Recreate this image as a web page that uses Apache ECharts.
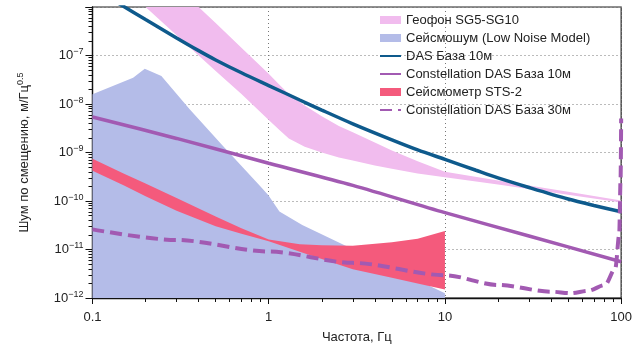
<!DOCTYPE html>
<html><head><meta charset="utf-8">
<script src="https://cdn.jsdelivr.net/npm/echarts@6/dist/echarts.min.js"></script>
<style>html,body{margin:0;padding:0;background:#fff}#c{width:635px;height:349px}</style>
</head><body><div id="c"></div>
<script>
const FONT = '"Liberation Sans", Arial, sans-serif';

// Геофон SG5-SG10 (band)
const geoFreq  = [0.15, 0.2, 0.3, 0.4, 0.5, 0.7, 1, 1.15, 1.3, 1.6, 2, 2.5, 3, 4, 5, 7, 10, 20, 50, 100];
const geoUpper = [3e-5, 1.1e-5, 2.75e-6, 1.0e-6, 4.7e-7, 1.45e-7, 4.2e-8, 2.5e-8, 1.6e-8, 9.3e-9, 5.6e-9, 3.5e-9, 2.6e-9, 1.6e-9, 1.1e-9, 6.6e-10, 4.0e-10, 2.66e-10, 1.55e-10, 1.02e-10];
const geoLower = [2.6e-6, 1.0e-6, 2.6e-7, 1.0e-7, 4.8e-8, 1.6e-8, 4.7e-9, 2.9e-9, 1.95e-9, 1.32e-9, 1.0e-9, 7.9e-10, 6.8e-10, 5.4e-10, 4.6e-10, 3.7e-10, 3.1e-10, 2.2e-10, 1.35e-10, 9.3e-11];

// Сейсмошум (Low Noise Model) (area)
const nlnmFreq = [0.1, 0.17, 0.198, 0.246, 0.356, 0.547, 0.885, 0.996, 1.15, 1.55, 10];
const nlnmVal  = [1.58e-8, 3.49e-8, 5.33e-8, 3.8e-8, 7.8e-9, 1.39e-9, 2.1e-10, 1.31e-10, 6.1e-11, 3.2e-11, 1.26e-12];

// Сейсмометр STS-2 (band)
const stsFreq  = [0.1, 0.15, 0.2, 0.3, 0.5, 0.7, 1, 1.5, 2, 3, 5, 7, 10];
const stsUpper = [7.4e-10, 3.7e-10, 2.3e-10, 1.15e-10, 4.8e-11, 2.75e-11, 1.6e-11, 1.28e-11, 1.23e-11, 1.2e-11, 1.41e-11, 1.66e-11, 2.4e-11];
const stsLower = [4.2e-10, 2.1e-10, 1.26e-10, 6.3e-11, 3.0e-11, 2.1e-11, 1.48e-11, 9.0e-12, 6.4e-12, 3.9e-12, 2.6e-12, 2.0e-12, 1.5e-12];

// DAS База 10м
const dasFreq = [0.14, 0.2, 0.3, 0.4, 0.5, 0.7, 1, 1.5, 2, 3, 5, 7, 10, 15, 20, 30, 50, 70, 100];
const dasVal  = [1.2e-6, 5.5e-7, 2.3e-7, 1.26e-7, 8.1e-8, 4.4e-8, 2.4e-8, 1.21e-8, 7.5e-9, 3.9e-9, 1.82e-9, 1.13e-9, 7.2e-10, 4.3e-10, 3.0e-10, 1.9e-10, 1.1e-10, 8.1e-11, 6.0e-11];

// Constellation DAS База 10м
const c10Freq = [0.1, 0.3, 1, 3, 10, 30, 100];
const c10Val  = [5.4e-9, 1.95e-9, 6.0e-10, 2.1e-10, 5.75e-11, 1.9e-11, 5.6e-12];

// Constellation DAS База 30м
const c30Freq = [0.1, 0.3, 1, 3, 10, 20, 40, 52, 65, 81, 92.7, 97.5, 99.3, 100];
const c30Val  = [2.6e-11, 1.57e-11, 9.1e-12, 5.3e-12, 2.95e-12, 1.86e-12, 1.35e-12, 1.26e-12, 1.41e-12, 1.86e-12, 4.1e-12, 2e-11, 3e-10, 5e-9];

// ticks
const xTicks = [0.1, 1, 10, 100];
const xTickLabels = ['0.1', '1', '10', '100'];
const xMinor = [0.2,0.3,0.4,0.5,0.6,0.7,0.8,0.9,2,3,4,5,6,7,8,9,20,30,40,50,60,70,80,90];
const yTickExp = [-12, -11, -10, -9, -8, -7];
const yMinor = [];
for (let e = -12; e < -6; e++) for (let k = 2; k <= 9; k++) yMinor.push(k * Math.pow(10, e));

const PINK = '#f1bcee', BLUEA = '#b4bce8', RED = '#f45a7c', DASC = '#0e5a8c', PURP = '#a25ab2';

const pair = (f, v) => f.map((x, i) => [x, v[i]]);

function band(name, freq, up, lo, color) {
  return {
    name, type: 'custom', coordinateSystem: 'cartesian2d', clip: true, z: 3,
    itemStyle: { color },
    data: freq.map((f, i) => [f, up[i], lo[i]]),
    encode: { x: 0, y: [1, 2] },
    renderItem: (params, api) => {
      if (params.dataIndex !== 0) return null;
      const pts = [];
      for (let i = 0; i < freq.length; i++) pts.push(api.coord([freq[i], up[i]]));
      for (let i = freq.length - 1; i >= 0; i--) pts.push(api.coord([freq[i], lo[i]]));
      return { type: 'polygon', shape: { points: pts }, style: { fill: color } };
    }
  };
}

const chart = echarts.init(document.getElementById('c'));
const axisTxt = { color: '#222', fontSize: 13, fontFamily: FONT };
const hideSym = { color: 'rgba(0,0,0,0)', borderColor: 'rgba(0,0,0,0)', borderWidth: 0, opacity: 0 };

chart.setOption({
  animation: false,
  textStyle: { fontFamily: FONT },
  grid: { left: 92.5, right: 12, top: 7, bottom: 49, show: true, borderColor: '#222', borderWidth: 1.2, backgroundColor: 'transparent' },
  legend: {
    orient: 'vertical', left: 374, top: 8.5, itemWidth: 21, itemHeight: 8, itemGap: 5,
    textStyle: { fontSize: 13, color: '#222', fontFamily: FONT },
    data: [
      { name: 'Геофон SG5-SG10', icon: 'rect', itemStyle: { color: PINK } },
      { name: 'Сейсмошум (Low Noise Model)', icon: 'rect', itemStyle: { color: BLUEA } },
      { name: 'DAS База 10м', itemStyle: hideSym },
      { name: 'Constellation DAS База 10м', itemStyle: hideSym },
      { name: 'Сейсмометр STS-2', icon: 'rect', itemStyle: { color: RED } },
      { name: 'Constellation DAS База 30м', itemStyle: hideSym }
    ]
  },
  xAxis: [{
    type: 'log', logBase: 10, min: 0.1, max: 100,
    name: 'Частота, Гц', nameLocation: 'middle', nameGap: 33,
    nameTextStyle: { color: '#222', fontSize: 13, fontFamily: FONT },
    axisLine: { lineStyle: { color: '#111', width: 1.3 } },
    axisTick: { length: 6, lineStyle: { color: '#111' } },
    axisLabel: Object.assign({ margin: 13, formatter: v => {
      const i = xTicks.findIndex(t => Math.abs(Math.log10(t) - Math.log10(v)) < 1e-6);
      return i >= 0 ? xTickLabels[i] : '';
    } }, axisTxt),
    splitLine: { show: true, lineStyle: { type: [1, 3], color: '#777', width: 1 } }
  }, {
    type: 'log', logBase: 10, min: 0.1, max: 100, position: 'bottom',
    axisLine: { show: false },
    axisTick: { show: true, customValues: xMinor, length: 4, lineStyle: { color: '#111' } },
    axisLabel: { show: false }, splitLine: { show: false }
  }],
  yAxis: [{
    type: 'log', logBase: 10, min: 1e-12, max: 1e-6,
    name: '{a|Шум по смещению, м/Гц}{s|0.5}', nameLocation: 'middle', nameGap: 60, nameRotate: 90,
    nameTextStyle: { color: '#222', fontFamily: FONT, rich: {
      a: { fontSize: 13, color: '#222', fontFamily: FONT, lineHeight: 16 },
      s: { fontSize: 9, color: '#222', fontFamily: FONT, verticalAlign: 'top', lineHeight: 9 } } },
    axisLine: { lineStyle: { color: '#111', width: 1.3 } },
    axisTick: { length: 7, lineStyle: { color: '#111' } },
    axisLabel: {
      margin: 9, color: '#222', fontFamily: FONT,
      formatter: v => {
        const e = Math.round(Math.log10(v));
        if (yTickExp.indexOf(e) < 0) return '';
        return '{b|10}{s|−' + (-e) + '}';
      },
      rich: {
        b: { fontSize: 13, color: '#222', fontFamily: FONT, lineHeight: 16 },
        s: { fontSize: 9, color: '#222', fontFamily: FONT, verticalAlign: 'top', lineHeight: 9 }
      }
    },
    splitLine: { show: true, lineStyle: { type: [1, 3], color: '#777', width: 1 } }
  }, {
    type: 'log', logBase: 10, min: 1e-12, max: 1e-6, position: 'left',
    axisLine: { show: false },
    axisTick: { show: true, customValues: yMinor, length: 4, lineStyle: { color: '#111' } },
    axisLabel: { show: false }, splitLine: { show: false }
  }],
  series: [
    { name: 'Сейсмошум (Low Noise Model)', type: 'line', z: 2, data: pair(nlnmFreq, nlnmVal), symbol: 'none',
      lineStyle: { width: 0, color: BLUEA }, itemStyle: { color: BLUEA },
      areaStyle: { color: BLUEA, opacity: 1, origin: 'start' } },
    band('Геофон SG5-SG10', geoFreq, geoUpper, geoLower, PINK),
    band('Сейсмометр STS-2', stsFreq, stsUpper, stsLower, RED),
    { name: 'Constellation DAS База 10м', type: 'line', z: 4, data: pair(c10Freq, c10Val), symbol: 'none', smooth: 0.3,
      lineStyle: { width: 3.5, color: PURP }, itemStyle: { color: PURP } },
    { name: 'DAS База 10м', type: 'line', z: 4, data: pair(dasFreq, dasVal), symbol: 'none', smooth: 0.3,
      lineStyle: { width: 3.5, color: DASC }, itemStyle: { color: DASC } },
    { name: 'Constellation DAS База 30м', type: 'line', z: 4, data: pair(c30Freq, c30Val), symbol: 'none', smooth: 0.3, smoothMonotone: 'x',
      lineStyle: { width: 4, color: PURP, type: [12, 6] }, itemStyle: { color: PURP } }
  ]
});
</script></body></html>
